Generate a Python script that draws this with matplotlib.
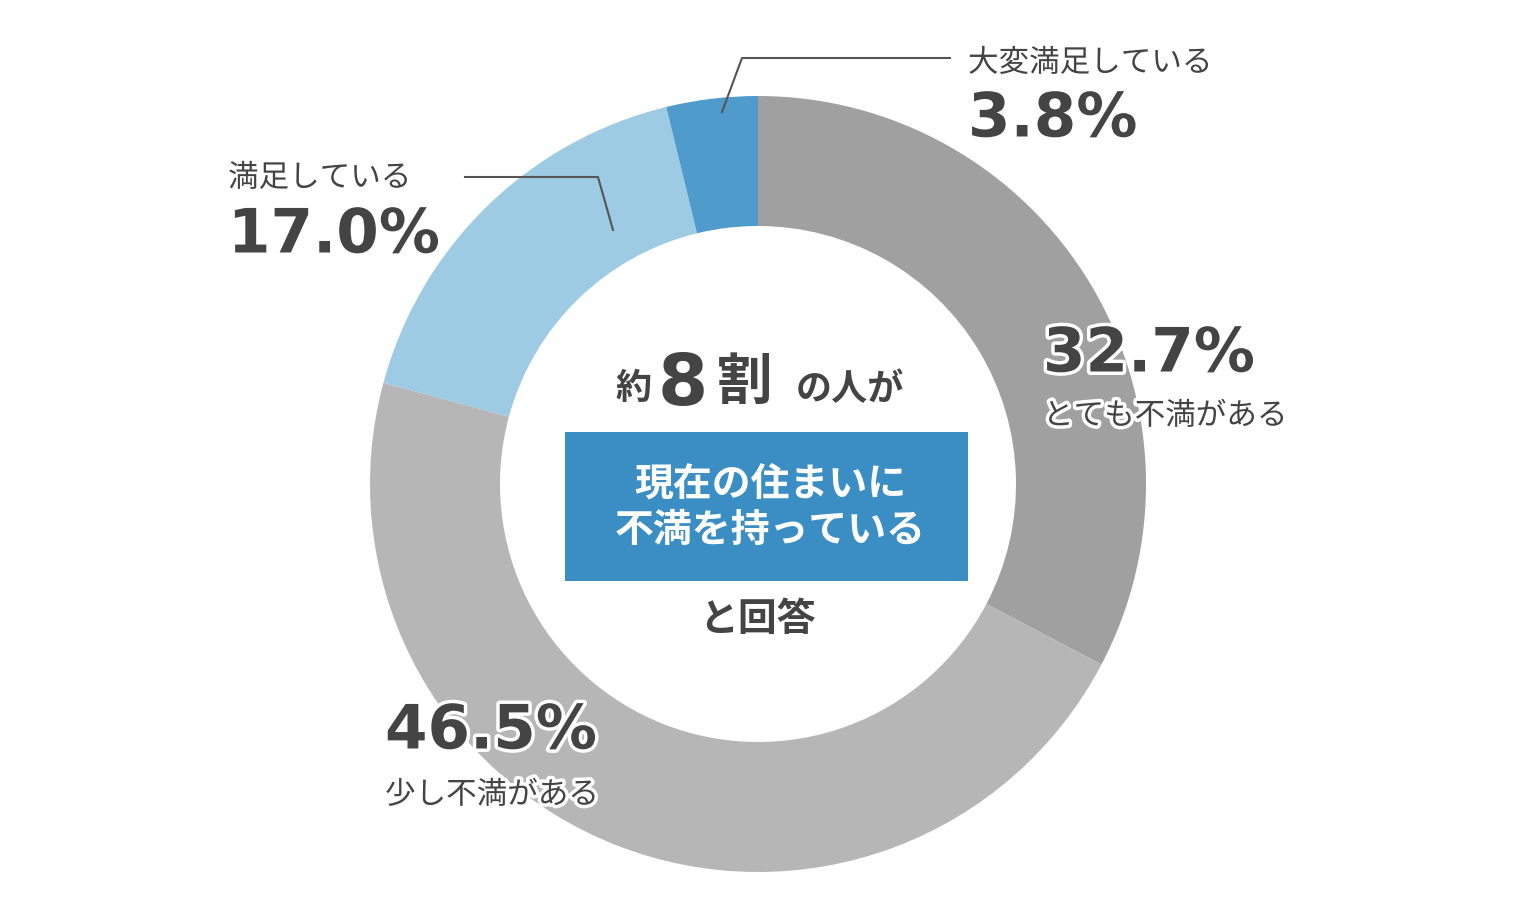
import matplotlib
matplotlib.use("Agg")
import matplotlib.pyplot as plt
import matplotlib.patheffects as pe
from matplotlib.patches import Rectangle

categories = ["とても不満がある", "少し不満がある", "満足している", "大変満足している"]
values = [32.7, 46.5, 17.0, 3.8]
colors = ["#a0a0a0", "#b6b6b6", "#9ccbe3", "#4f9bcb"]

FONT = "Noto Sans CJK JP"
W, H = 1520, 922
fig = plt.figure(figsize=(15.2, 9.22), dpi=100)
ax = fig.add_axes([0, 0, 1, 1])
ax.set_xlim(0, W); ax.set_ylim(0, H); ax.set_aspect("equal"); ax.axis("off")

def Y(y): return H - y

cx, cy, R = 758, Y(484), 388
ax.pie(values, colors=colors, startangle=90, counterclock=False, center=(cx, cy),
       radius=R, wedgeprops=dict(width=R - 258, linewidth=0), frame=True)
ax.set_xlim(0, W); ax.set_ylim(0, H); ax.axis("off")

glow = [pe.withStroke(linewidth=5, foreground="white")]
dark = "#444444"

def label(x, y_pct, y_cat, pct, cat, ha="left"):
    ax.text(x, Y(y_pct), pct, fontsize=44, fontweight="bold", color=dark, ha=ha, va="center",
            family="DejaVu Sans", path_effects=glow)
    ax.text(x, Y(y_cat), cat, fontsize=22, color=dark, ha=ha, va="center", family=FONT,
            path_effects=glow)

label(1043, 355, 416, f"{values[0]}%", categories[0])
label(385, 732, 795, f"{values[1]}%", categories[1])
label(228, 236, 178, f"{values[2]}%", categories[2])
label(968, 120, 63, f"{values[3]}%", categories[3])

ax.plot([722, 742, 950], [Y(112), Y(58), Y(58)], color="#555555", lw=1.5)
ax.plot([613, 598, 465], [Y(230), Y(177), Y(177)], color="#555555", lw=1.5)

# center text
ax.text(633, Y(388), "約", fontsize=26, fontweight="bold", color=dark, ha="center", va="center", family=FONT)
ax.text(683, Y(385), "8", fontsize=52, fontweight="bold", color=dark, ha="center", va="center", family="DejaVu Sans")
ax.text(745, Y(383), "割", fontsize=40, fontweight="bold", color=dark, ha="center", va="center", family=FONT)
ax.text(850, Y(390), "の人が", fontsize=26, fontweight="bold", color=dark, ha="center", va="center", family=FONT)
ax.add_patch(Rectangle((565, Y(581)), 403, 149, color="#3a8ec3", lw=0))
ax.text(770, Y(484), "現在の住まいに", fontsize=28, fontweight="bold", color="white", ha="center", va="center", family=FONT)
ax.text(770, Y(530), "不満を持っている", fontsize=28, fontweight="bold", color="white", ha="center", va="center", family=FONT)
ax.text(757, Y(620), "と回答", fontsize=28, fontweight="bold", color=dark, ha="center", va="center", family=FONT)

fig.savefig("out.png", dpi=100, facecolor="white")
